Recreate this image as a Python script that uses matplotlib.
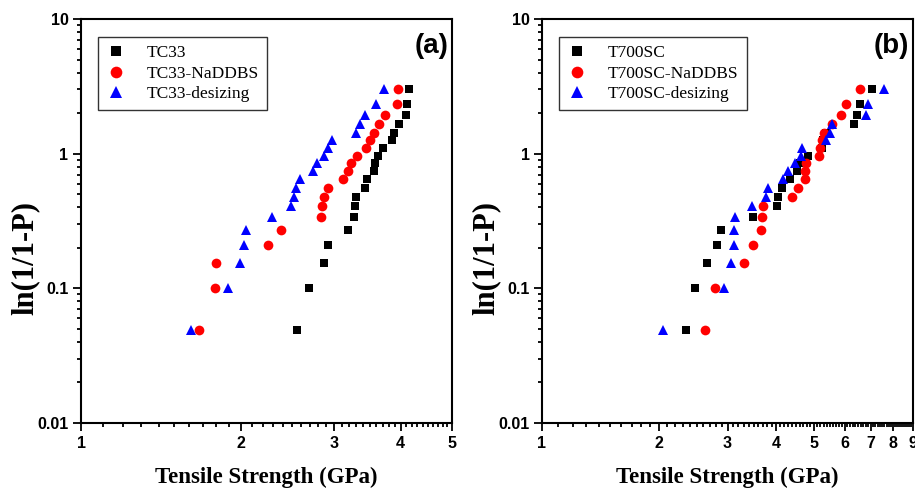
import numpy as np
import matplotlib
matplotlib.use('Agg')
import matplotlib.pyplot as plt
from matplotlib.ticker import FixedLocator, NullFormatter, LogLocator

# ln(1/(1-P)) levels, 20 fibres per batch
weibull_y = [0.0488, 0.1001, 0.1542, 0.2113, 0.2719, 0.3365, 0.4055, 0.4796, 0.5596, 0.6466,
             0.7419, 0.8473, 0.9651, 1.0986, 1.2528, 1.4351, 1.6582, 1.9459, 2.3514, 3.0445]

# (a) TC33 fibres, strength in GPa
tc33 = [2.55, 2.69, 2.87, 2.92, 3.18, 3.27, 3.28, 3.30, 3.43, 3.46,
        3.57, 3.58, 3.63, 3.71, 3.85, 3.89, 3.98, 4.10, 4.12, 4.15]
tc33_naddbs = [1.67, 1.79, 1.80, 2.25, 2.38, 2.83, 2.84, 2.87, 2.92, 3.12,
               3.18, 3.22, 3.31, 3.44, 3.51, 3.56, 3.65, 3.74, 3.94, 3.96]
tc33_desizing = [1.61, 1.89, 1.99, 2.03, 2.05, 2.29, 2.49, 2.52, 2.54, 2.59,
                 2.73, 2.78, 2.87, 2.92, 2.97, 3.30, 3.36, 3.43, 3.60, 3.72]

# (b) T700SC fibres
t700 = [2.35, 2.47, 2.66, 2.82, 2.89, 3.48, 4.02, 4.04, 4.14, 4.34,
        4.52, 4.61, 4.83, 5.24, 5.28, 5.38, 6.35, 6.45, 6.58, 7.05]
t700_naddbs = [2.63, 2.79, 3.30, 3.48, 3.66, 3.69, 3.71, 4.40, 4.55, 4.75,
               4.76, 4.77, 5.16, 5.19, 5.24, 5.31, 5.56, 5.87, 6.05, 6.58]
t700_desizing = [2.05, 2.94, 3.06, 3.11, 3.11, 3.13, 3.46, 3.77, 3.82, 4.16,
                 4.30, 4.47, 4.64, 4.66, 5.38, 5.51, 5.56, 6.81, 6.91, 7.58]

panels = [
    ('(a)', ['TC33', 'TC33-NaDDBS', 'TC33-desizing'], [tc33, tc33_naddbs, tc33_desizing], 5, [1, 2, 3, 4, 5]),
    ('(b)', ['T700SC', 'T700SC-NaDDBS', 'T700SC-desizing'], [t700, t700_naddbs, t700_desizing], 9,
     [1, 2, 3, 4, 5, 6, 7, 8, 9]),
]
markers = ['s', 'o', '^']
colors = ['black', 'red', 'blue']
msizes = [6, 7, 7.5]

fig = plt.figure(figsize=(9.15, 4.9), dpi=100)
lefts = [81, 542]  # axes left edge in pixels

tick_font = dict(family='Liberation Sans', weight='bold', size=11.5)

for (tag, names, series, xmax, xt), left in zip(panels, lefts):
    ax = fig.add_axes([left / 915, 67 / 490, 371 / 915, 404 / 490])
    for name, xs, m, c, ms in zip(names, series, markers, colors, msizes):
        ax.plot(xs, weibull_y, linestyle='none', marker=m, color=c, markersize=ms,
                markeredgewidth=0, label=name)
    ax.set_xscale('log')
    ax.set_yscale('log')
    ax.set_xlim(1, xmax)
    ax.set_ylim(0.01, 10)

    ax.xaxis.set_major_locator(FixedLocator(xt))
    ax.xaxis.set_minor_locator(FixedLocator(np.arange(1.1, xmax, 0.1)))
    ax.xaxis.set_minor_formatter(NullFormatter())
    ax.set_xticklabels([str(v) for v in xt], fontdict=tick_font)
    ax.yaxis.set_major_locator(FixedLocator([0.01, 0.1, 1, 10]))
    ax.yaxis.set_minor_locator(LogLocator(base=10, subs=np.arange(2, 10)))
    ax.yaxis.set_minor_formatter(NullFormatter())
    ax.set_yticklabels(['0.01', '0.1', '1', '10'], fontdict=tick_font)

    ax.tick_params(which='both', direction='out', top=False, right=False, width=1.3)
    ax.tick_params(which='major', length=6, pad=3)
    ax.tick_params(which='minor', length=3)
    for sp in ax.spines.values():
        sp.set_linewidth(1.5)

    ax.set_xlabel('Tensile Strength (GPa)', family='Liberation Serif', weight='bold',
                  size=16.5, labelpad=12)
    # y label sits a bit low and far from the axis in the original
    fig.text((left - 56) / 915, 1 - 258 / 490, 'ln(1/1-P)', rotation=90, ha='center', va='center',
             family='Liberation Serif', weight='bold', size=22)

    ax.text(0.99, 0.933, tag, transform=ax.transAxes, ha='right', va='center',
            family='Liberation Sans', weight='bold', size=20)

    leg = ax.legend(loc='upper left', bbox_to_anchor=(0.045, 0.955), frameon=True, fancybox=False,
                    edgecolor='black', prop=dict(family='Liberation Serif', size=12.5),
                    handlelength=1.2, handletextpad=1.2, borderpad=0.45, labelspacing=0.25,
                    borderaxespad=0, markerscale=1.2)
    leg.get_frame().set_linewidth(1.0)

fig.savefig('out.png', dpi=100)
